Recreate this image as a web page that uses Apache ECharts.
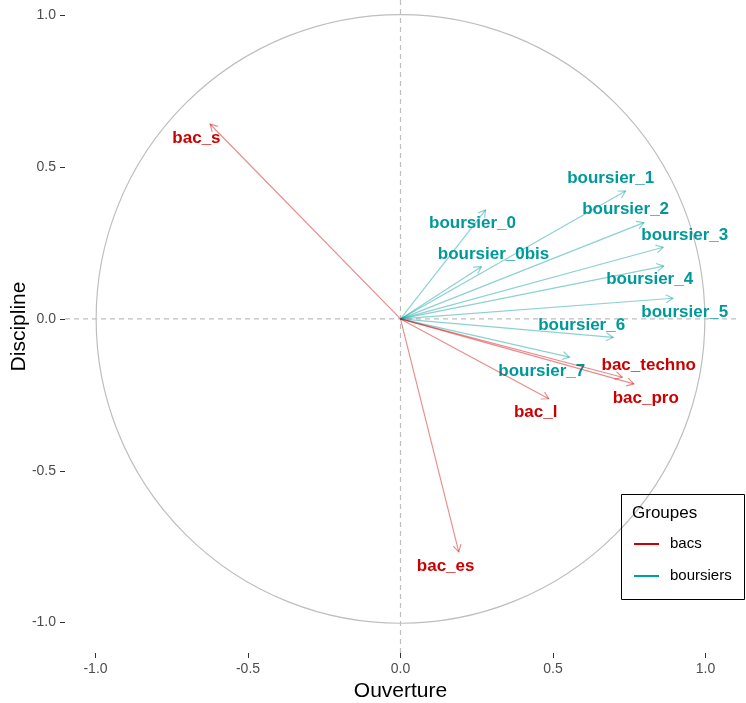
<!DOCTYPE html>
<html>
<head>
<meta charset="utf-8">
<script src="https://cdn.jsdelivr.net/npm/echarts@6/dist/echarts.min.js"></script>
<style>
html,body{margin:0;padding:0;background:#fff;}
#c{width:746px;height:703px;}
</style>
</head>
<body>
<div id="c"></div>
<script>
// ---- data ----
var bacNames = ['bac_s', 'bac_es', 'bac_l', 'bac_techno', 'bac_pro'];
var bacX = [-0.624, 0.191, 0.486, 0.727, 0.765];
var bacY = [0.641, -0.767, -0.263, -0.192, -0.214];
var bacLabelX = [-0.669, 0.148, 0.443, 0.814, 0.804];
var bacLabelY = [0.595, -0.816, -0.309, -0.152, -0.260];

var boursierNames = ['boursier_0', 'boursier_0bis', 'boursier_1', 'boursier_2', 'boursier_3', 'boursier_4', 'boursier_5', 'boursier_6', 'boursier_7'];
var boursierX = [0.279, 0.265, 0.738, 0.798, 0.861, 0.863, 0.893, 0.697, 0.554];
var boursierY = [0.359, 0.172, 0.421, 0.317, 0.236, 0.174, 0.068, -0.061, -0.126];
var boursierLabelX = [0.236, 0.305, 0.689, 0.738, 0.932, 0.817, 0.932, 0.594, 0.463];
var boursierLabelY = [0.316, 0.214, 0.464, 0.362, 0.276, 0.132, 0.023, -0.020, -0.174];

var tickValues = [-1.0, -0.5, 0.0, 0.5, 1.0];
var xRange = [-1.1, 1.1];
var yRange = [-1.1, 1.05];

var FONT = '"Liberation Sans", Arial, sans-serif';

function buildData(names, xs, ys, lxs, lys) {
  return names.map(function (n, i) {
    return { name: n, value: [xs[i], ys[i], lxs[i], lys[i]] };
  });
}

function arrowRenderer(names, lineColor, textColor) {
  return function (params, api) {
    var p0 = api.coord([0, 0]);
    var p1 = api.coord([api.value(0), api.value(1)]);
    var pl = api.coord([api.value(2), api.value(3)]);
    var ang = Math.atan2(p1[1] - p0[1], p1[0] - p0[0]);
    var L = 8, h = Math.PI / 6;
    var a1 = [p1[0] - L * Math.cos(ang - h), p1[1] - L * Math.sin(ang - h)];
    var a2 = [p1[0] - L * Math.cos(ang + h), p1[1] - L * Math.sin(ang + h)];
    return {
      type: 'group',
      children: [
        { type: 'line', shape: { x1: p0[0], y1: p0[1], x2: p1[0], y2: p1[1] },
          style: { stroke: lineColor, lineWidth: 1.2 } },
        { type: 'polyline', shape: { points: [a1, p1, a2] },
          style: { stroke: lineColor, lineWidth: 1.2, fill: null } },
        { type: 'text', x: pl[0], y: pl[1], z2: 10,
          style: { text: names[params.dataIndex], fill: textColor, font: 'bold 17px ' + FONT,
                   align: 'center', verticalAlign: 'middle' } }
      ]
    };
  };
}

var chart = echarts.init(document.getElementById('c'), null, { renderer: 'canvas' });

function axisCommon(margin) {
  return {
    axisLine: { show: false, onZero: false },
    splitLine: { show: false },
    nameMoveOverlap: false,
    axisTick: { show: true, length: 5, customValues: tickValues, lineStyle: { color: '#333', width: 1 } },
    axisLabel: { customValues: tickValues, margin: margin, fontSize: 14, color: '#4d4d4d', fontFamily: FONT,
                 formatter: function (v) { return v.toFixed(1); } }
  };
}

var option = {
  animation: false,
  backgroundColor: '#ffffff',
  grid: { left: 65, right: 10, top: 0, bottom: 50, containLabel: false, outerBoundsMode: 'none' },
  xAxis: Object.assign({
    type: 'value', min: xRange[0], max: xRange[1],
    name: 'Ouverture', nameLocation: 'middle', nameGap: 28,
    nameTextStyle: { fontSize: 21, color: '#000', fontFamily: FONT }
  }, axisCommon(9)),
  yAxis: Object.assign({
    type: 'value', min: yRange[0], max: yRange[1],
    name: 'Discipline', nameLocation: 'middle', nameGap: 35,
    nameTextStyle: { fontSize: 21, color: '#000', fontFamily: FONT }
  }, axisCommon(9)),
  legend: {
    data: ['bacs', 'boursiers'],
    orient: 'vertical', left: 629, top: 531, z: 20,
    icon: 'rect', itemWidth: 25, itemHeight: 2, itemGap: 16,
    selectedMode: false,
    textStyle: { fontSize: 15, color: '#000', fontFamily: FONT, lineHeight: 16, padding: [0, 0, 0, 6] }
  },
  graphic: [
    { type: 'rect', left: 621, top: 494, z: 10,
      shape: { width: 123, height: 105 },
      style: { fill: 'rgba(255,255,255,0)', stroke: '#000', lineWidth: 1 } },
    { type: 'text', left: 632, top: 505, z: 11,
      style: { text: 'Groupes', font: '17px ' + FONT, fill: '#000' } }
  ],
  series: [
    {
      type: 'custom', name: 'frame', silent: true, z: 1,
      data: [[0, 0]],
      renderItem: function (params, api) {
        var c = api.coord([0, 0]);
        var s = api.size([1, 1]);
        var r = (s[0] + s[1]) / 2;
        var h0 = api.coord([xRange[0], 0]), h1 = api.coord([xRange[1], 0]);
        var v0 = api.coord([0, yRange[0]]), v1 = api.coord([0, yRange[1]]);
        var dash = { stroke: '#bebebe', lineWidth: 1.2, lineDash: [5, 4] };
        return {
          type: 'group',
          children: [
            { type: 'circle', shape: { cx: c[0], cy: c[1], r: r },
              style: { fill: null, stroke: '#bebebe', lineWidth: 1.2 } },
            { type: 'line', shape: { x1: h0[0], y1: h0[1], x2: h1[0], y2: h1[1] }, style: dash },
            { type: 'line', shape: { x1: v0[0], y1: v0[1], x2: v1[0], y2: v1[1] }, style: dash }
          ]
        };
      }
    },
    {
      type: 'custom', name: 'bacs', silent: true, z: 3,
      itemStyle: { color: '#cc0000' },
      encode: { x: 0, y: 1 },
      data: buildData(bacNames, bacX, bacY, bacLabelX, bacLabelY),
      renderItem: arrowRenderer(bacNames, 'rgba(204,0,0,0.45)', '#cc0000')
    },
    {
      type: 'custom', name: 'boursiers', silent: true, z: 2,
      itemStyle: { color: '#00a0a0' },
      encode: { x: 0, y: 1 },
      data: buildData(boursierNames, boursierX, boursierY, boursierLabelX, boursierLabelY),
      renderItem: arrowRenderer(boursierNames, 'rgba(0,153,153,0.45)', '#009999')
    }
  ]
};
chart.setOption(option);
</script>
</body>
</html>
